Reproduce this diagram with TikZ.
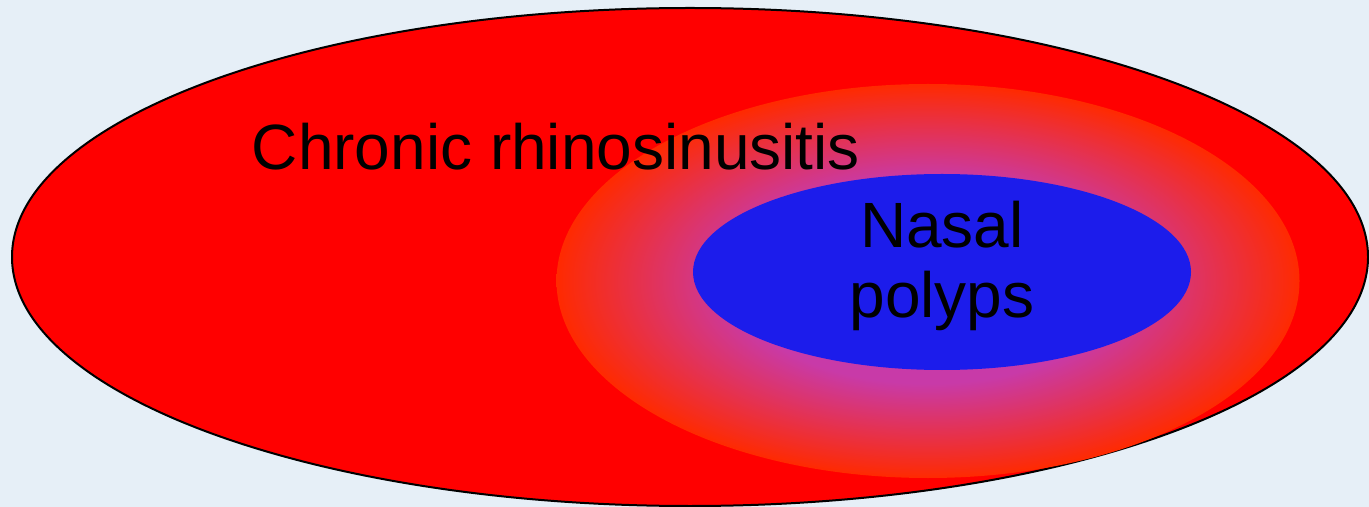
\documentclass[tikz,border=0pt]{standalone}
\usepackage{fontspec}
\setmainfont{Liberation Sans}
\usetikzlibrary{shapes.geometric,positioning}
\definecolor{CBack}{HTML}{E6EFF7}
\definecolor{CRed}{HTML}{FF0000}
\definecolor{CGlow}{HTML}{FF2A00}
\definecolor{CPurple}{HTML}{C83AA8}
\definecolor{CBlue}{HTML}{1C1CEB}
\pgfdeclareradialshading{polypglow}{\pgfpointorigin}{%
  color(0bp)=(CPurple); color(13bp)=(CPurple); color(25bp)=(CGlow); color(50bp)=(CGlow)}
\tikzset{
  blob/.style={ellipse,inner sep=0pt,minimum width=#1},
  bigtext/.style={font=\fontsize{32}{35}\selectfont,text=black,align=center}
}

\begin{document}
\begin{tikzpicture}[x=0.5pt,y=-0.5pt]
    % background and page size
    \fill[CBack] (0,0) rectangle (1369,507);
    \node[blob=678pt,minimum height=249pt,fill=CRed,draw=black,line width=1pt] (crs) at (690,257) {};
    \node[blob=371.5pt,minimum height=197pt,shading=polypglow] (glow) at (928,281) {};
    \node[blob=249pt,minimum height=98pt,fill=CBlue] (polyp) at (942,272) {};
    % labels
    \node[bigtext] (crslabel) at (556,147) {Chronic rhinosinusitis};
    \node[bigtext,yshift=3pt] (polyplabel) at (polyp.center) {Nasal\\polyps};
\end{tikzpicture}
\end{document}
